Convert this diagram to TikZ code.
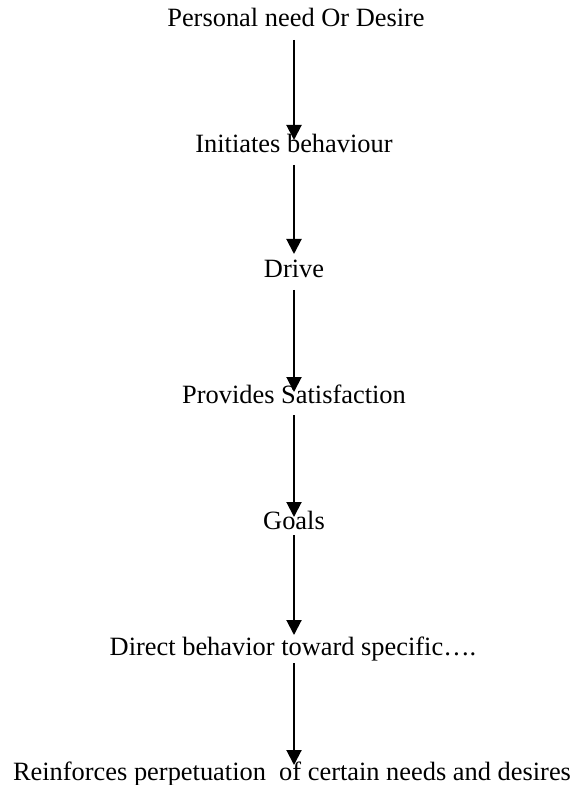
\documentclass[tikz,border=0pt]{standalone}
\usepackage{fontspec}
\setmainfont{Liberation Serif}
\usetikzlibrary{arrows.meta,calc}
\begin{document}
\begin{tikzpicture}[x=0.5pt,y=-0.5pt,
  lbl/.style={anchor=base,inner sep=0pt,font=\fontsize{13.2}{16}\selectfont},
  arr/.style={line width=1pt,-{Triangle[length=7.5pt,width=7.5pt]}}]
\useasboundingbox (0,0) rectangle (585,785);
\coordinate (ax) at (294,0);
\node[lbl] (n1) at (296,27) {Personal need Or Desire};
\node[lbl] (n2) at (294,153) {Initiates behaviour};
\node[lbl] (n3) at (294,278) {Drive};
\node[lbl] (n4) at (294,403) {Provides Satisfaction};
\node[lbl] (n5) at (294,529) {Goals};
\node[lbl] (n6) at (293,655) {Direct behavior toward specific\dots.};
\node[lbl] (n7) at (292,780) {Reinforces perpetuation\ \ of certain needs and desires};
\draw[arr] ($(n1.base -| ax)+(0,13)$) -- ($(n2.base -| ax)+(0,-13)$);
\draw[arr] ($(n2.base -| ax)+(0,12)$) -- ($(n3.base -| ax)+(0,-24)$);
\draw[arr] ($(n3.base -| ax)+(0,12)$) -- ($(n4.base -| ax)+(0,-11)$);
\draw[arr] ($(n4.base -| ax)+(0,12)$) -- ($(n5.base -| ax)+(0,-12)$);
\draw[arr] ($(n5.base -| ax)+(0,6)$) -- ($(n6.base -| ax)+(0,-20)$);
\draw[arr] ($(n6.base -| ax)+(0,8)$) -- ($(n7.base -| ax)+(0,-15)$);
\end{tikzpicture}
\end{document}
